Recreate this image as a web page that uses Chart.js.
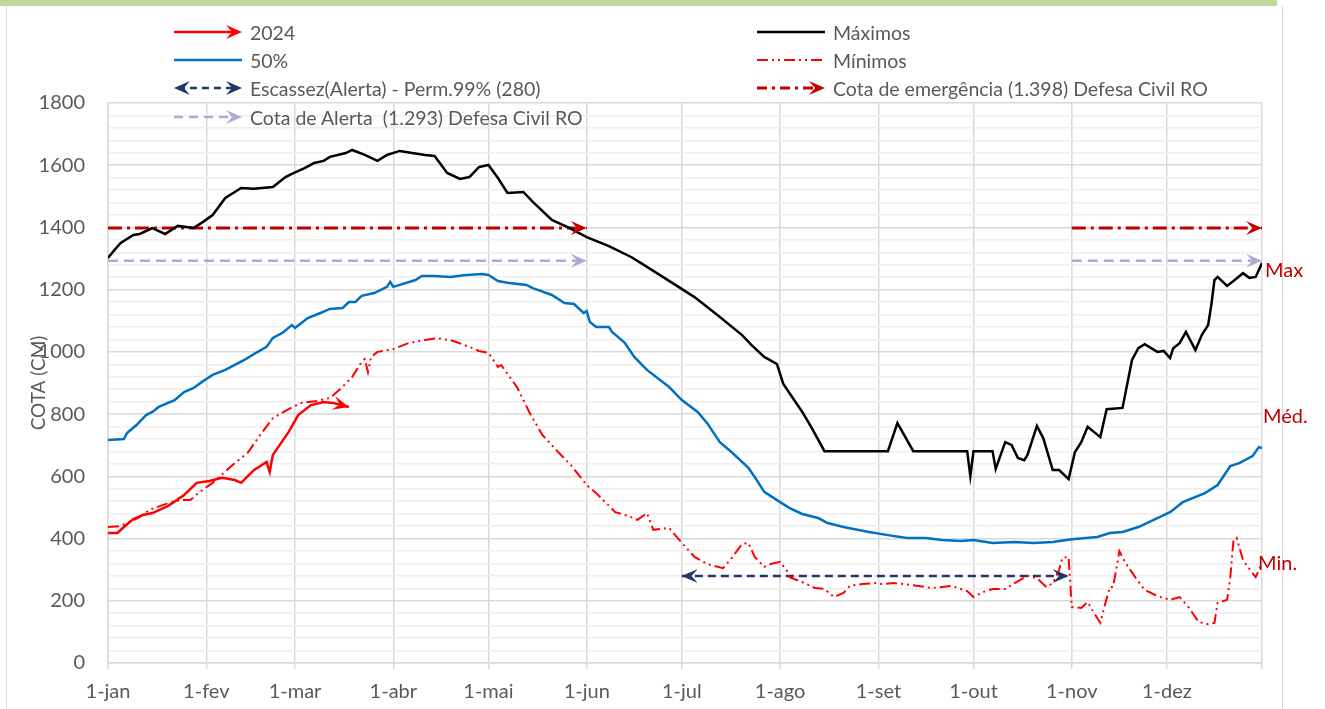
<!DOCTYPE html>
<html>
<head>
<meta charset="utf-8">
<title>Cota - Máximos, 50%, Mínimos e 2024</title>
<script src="https://cdn.jsdelivr.net/npm/chart.js@4.4.1/dist/chart.umd.min.js"></script>
<style>
  body { margin: 0; background: #fff; font-family: Lato, "Open Sans", sans-serif; }
  #wrap { position: relative; width: 1325px; height: 709px; overflow: hidden; }
  .band { position: absolute; left: 0; top: 0; width: 1277px; height: 6px; background: #c4d79b; }
  .frame { position: absolute; left: 6px; top: 6px; width: 1277px; height: 720px;
           border-left: 1px solid #d9d9d9; border-right: 1px solid #d9d9d9; box-sizing: border-box; }
  #chart { position: absolute; left: 0; top: 0; }
  .leg { position: absolute; display: flex; align-items: center; color: #595959; font-size: 19.5px; white-space: nowrap; }
  .leg svg { margin-right: 8px; }
</style>
</head>
<body>
<div id="wrap">
  <div class="band"></div>
  <div class="frame"></div>
  <canvas id="chart" width="1325" height="709"></canvas>
  <div id="legend"></div>
</div>
<script>
// eixo x: dia do ano (1-jan = 0)
const monthDays = [0, 31, 59, 90, 120, 151, 181, 212, 243, 273, 304, 334];
const monthLabels = ['1-jan', '1-fev', '1-mar', '1-abr', '1-mai', '1-jun', '1-jul', '1-ago', '1-set', '1-out', '1-nov', '1-dez'];
const yTicks = [0, 200, 400, 600, 800, 1000, 1200, 1400, 1600, 1800];

// Máximos
const maxDays = [0,2,4,8,10,14,18,22,27,30,33,37,42,46,52,56,58,62,65,68,70,75,77,81,85,88,92,96,100,103,107,111,114,117,120,123,126,131,134,140,145,151,158,165,168,175,185,193,200,203,207,211,213,219,222,226,246,249,254,271,272,273,279,280,283,285,287,289,290,293,295,298,300,303,305,307,309,313,315,320,323,325,327,331,333,335,336,338,340,343,345,347,348,349,350,353,355,358,360,362,364];
const maxValues = [1302,1327,1350,1376,1379,1398,1379,1405,1398,1418,1440,1495,1527,1524,1530,1562,1572,1591,1607,1614,1627,1639,1649,1633,1614,1633,1646,1639,1633,1630,1575,1556,1562,1594,1601,1559,1511,1514,1482,1424,1401,1369,1340,1305,1286,1241,1176,1112,1054,1022,984,961,897,807,755,681,681,771,681,681,601,681,681,624,710,701,659,652,668,762,723,620,620,591,678,710,759,726,816,820,974,1012,1025,1000,1003,980,1012,1028,1064,1006,1054,1086,1150,1231,1241,1212,1228,1253,1238,1241,1286];

// 50% (mediana)
const medDays = [0,5,6,9,12,14,16,21,24,27,30,33,37,40,43,46,50,52,55,58,59,61,63,67,70,74,76,78,80,84,88,89,90,97,99,103,108,113,118,120,123,126,132,134,140,144,147,150,151,152,154,158,159,163,166,170,177,181,186,189,193,197,202,204,207,212,215,219,224,227,232,240,246,252,258,263,269,273,279,286,292,298,304,312,316,320,325,331,335,339,346,350,354,357,361,363,364];
const medValues = [717,720,739,765,797,807,823,845,871,884,906,926,942,958,974,993,1016,1045,1061,1086,1077,1093,1109,1125,1138,1141,1160,1160,1180,1189,1209,1225,1209,1231,1244,1244,1241,1247,1250,1247,1228,1222,1215,1205,1183,1157,1154,1125,1131,1096,1080,1080,1064,1029,984,942,887,845,807,771,710,675,627,598,550,517,498,479,466,450,437,421,411,402,402,395,392,395,386,389,386,389,398,405,418,421,437,466,485,517,546,572,633,643,665,694,691];

// Mínimos
const minDays = [0,4,10,13,19,23,26,29,33,40,44,48,52,57,61,66,70,73,77,80,81,82,83,85,90,95,100,104,109,114,117,120,123,124,129,133,137,142,146,151,154,160,164,167,170,172,177,181,185,189,194,197,200,202,204,207,209,212,214,215,219,223,226,229,232,234,238,242,244,248,253,260,266,271,273,276,279,283,286,290,293,296,298,300,301,303,304,307,309,311,313,314,316,317,318,319,321,324,327,331,335,338,341,344,347,349,350,353,354,355,356,358,361,362,364];
const minValues = [437,440,469,492,514,524,524,550,579,643,675,733,787,816,836,842,852,878,919,968,977,935,984,1000,1009,1029,1038,1044,1035,1016,1003,997,952,958,887,804,733,678,636,572,546,485,473,460,482,428,434,386,341,318,305,341,383,386,341,309,318,325,299,276,260,241,238,212,225,248,254,257,254,257,251,241,248,231,212,228,238,238,257,280,273,244,257,299,338,341,180,177,196,161,129,170,244,244,299,360,321,276,235,215,203,212,177,132,125,129,193,203,276,395,402,331,289,276,321];

// 2024
const y2024Days = [0,3,5,8,11,14,19,24,28,32,36,40,42,46,50,51,52,57,60,64,68,71,76];
const y2024Values = [418,418,437,463,476,482,505,540,579,585,595,588,579,620,646,614,669,743,797,829,839,836,823];

// cotas de referência
const emergencyLevel = 1398;
const alertLevel = 1293;
const scarcityLevel = 280;
const refRangeA = [0, 151];
const refRangeB = [304, 364];
const scarcityRange = [181, 303];

const toPoints = (xs, ys) => xs.map((x, i) => ({ x: x, y: ys[i] }));
const flat = (range, v) => range.map(x => ({ x: x, y: v }));

const C = {
  max: '#000000', med: '#0070c0', min: '#ff0000', y2024: '#ff0000',
  emerg: '#c00000', alert: '#b4a7d6', scarce: '#1f3864', text: '#595959', grid: '#d9d9d9'
};

function drawArrow(ctx, x, y, ang, color, L, W) {
  ctx.save();
  ctx.translate(x, y);
  ctx.rotate(ang);
  ctx.fillStyle = color;
  ctx.beginPath();
  ctx.moveTo(0, 0);
  ctx.lineTo(-L, -W);
  ctx.lineTo(-L * 0.6, 0);
  ctx.lineTo(-L, W);
  ctx.closePath();
  ctx.fill();
  ctx.restore();
}

const arrowPlugin = {
  id: 'arrows',
  afterDatasetsDraw(chart) {
    const ctx = chart.ctx;
    chart.data.datasets.forEach((ds, i) => {
      if (!ds.arrows) return;
      const pts = chart.getDatasetMeta(i).data;
      ds.arrows.forEach(end => {
        const a = end === 'end' ? pts[pts.length - 1] : pts[0];
        const b = end === 'end' ? pts[pts.length - 2] : pts[1];
        drawArrow(ctx, a.x, a.y, Math.atan2(a.y - b.y, a.x - b.x), ds.borderColor, 16, 7);
      });
    });
  }
};

// rótulos Max / Méd. / Min. à direita
const sideLabels = [
  { text: 'Max', value: 1263, dx: 3 },
  { text: 'Méd.', value: 791, dx: 1 },
  { text: 'Min.', value: 321, dx: -4 }
];
const sideLabelPlugin = {
  id: 'sideLabels',
  afterDraw(chart) {
    const ctx = chart.ctx;
    const y = chart.scales.y;
    ctx.save();
    ctx.fillStyle = C.emerg;
    ctx.font = '20px Lato, sans-serif';
    ctx.textBaseline = 'middle';
    sideLabels.forEach(l => ctx.fillText(l.text, chart.chartArea.right + l.dx, y.getPixelForValue(l.value)));
    ctx.restore();
  }
};

const line = (data, color, width, dash, extra) => Object.assign({
  data: data, borderColor: color, backgroundColor: color, borderWidth: width,
  borderDash: dash || [], pointRadius: 0, tension: 0, fill: false
}, extra || {});

new Chart(document.getElementById('chart'), {
  type: 'line',
  data: {
    datasets: [
      line(toPoints(y2024Days, y2024Values), C.y2024, 2.5, null, { arrows: ['end'] }),
      line(toPoints(maxDays, maxValues), C.max, 2.5),
      line(toPoints(medDays, medValues), C.med, 2.5),
      line(toPoints(minDays, minValues), C.min, 2, [11, 4, 2, 4, 2, 4]),
      line(flat(scarcityRange, scarcityLevel), C.scarce, 2.5, [8, 5], { arrows: ['start', 'end'] }),
      line(flat(refRangeA, emergencyLevel), C.emerg, 3, [14, 5, 3, 5], { arrows: ['end'] }),
      line(flat(refRangeB, emergencyLevel), C.emerg, 3, [14, 5, 3, 5], { arrows: ['end'] }),
      line(flat(refRangeA, alertLevel), C.alert, 2.5, [10, 6], { arrows: ['end'] }),
      line(flat(refRangeB, alertLevel), C.alert, 2.5, [10, 6], { arrows: ['end'] })
    ]
  },
  options: {
    responsive: false,
    animation: false,
    devicePixelRatio: 1,
    layout: { padding: { left: 0, top: 103, right: 63, bottom: 0 } },
    plugins: { legend: { display: false }, tooltip: { enabled: false } },
    scales: {
      x: {
        type: 'linear', min: 0, max: 364,
        afterBuildTicks: axis => { axis.ticks = monthDays.concat([364]).map(v => ({ value: v })); },
        afterFit: axis => { axis.height = 46; },
        ticks: {
          autoSkip: false, maxRotation: 0, padding: 11, color: C.text,
          font: { family: 'Lato, sans-serif', size: 20 },
          callback: v => { const i = monthDays.indexOf(v); return i >= 0 ? monthLabels[i] : ''; }
        },
        grid: { color: C.grid, lineWidth: 1.5, tickLength: 6, drawTicks: true },
        border: { color: C.grid, width: 1.5 }
      },
      y: {
        min: 0, max: 1800,
        afterFit: axis => { axis.width = 108; },
        ticks: {
          stepSize: 40, autoSkip: false, padding: 23, color: C.text,
          font: { family: 'Lato, sans-serif', size: 20 },
          callback: v => (yTicks.includes(v) ? v : '')
        },
        grid: {
          drawTicks: false,
          color: ctx => (yTicks.includes(ctx.tick.value) ? C.grid : '#eeeeee'),
          lineWidth: 1.5
        },
        border: { color: C.grid, width: 1.5 },
        title: { display: true, text: 'COTA (CM)', color: C.text, padding: { top: 27, bottom: 0 },
                 font: { family: 'Lato, sans-serif', size: 19 } }
      }
    }
  },
  plugins: [arrowPlugin, sideLabelPlugin]
});

// legenda (duas colunas)
const legendItems = [
  { label: '2024', col: 0, row: 0, color: C.y2024, dash: '', width: 2.5, arrows: ['end'] },
  { label: '50%', col: 0, row: 1, color: C.med, dash: '', width: 2.5, arrows: [] },
  { label: 'Escassez(Alerta) - Perm.99% (280)', col: 0, row: 2, color: C.scarce, dash: '7 5', width: 2.5, arrows: ['start', 'end'] },
  { label: 'Cota de Alerta  (1.293) Defesa Civil RO', col: 0, row: 3, color: C.alert, dash: '9 6', width: 2.5, arrows: ['end'] },
  { label: 'Máximos', col: 1, row: 0, color: C.max, dash: '', width: 2.5, arrows: [] },
  { label: 'Mínimos', col: 1, row: 1, color: C.min, dash: '11 4 2 4 2 4', width: 2, arrows: [] },
  { label: 'Cota de emergência (1.398) Defesa Civil RO', col: 1, row: 2, color: C.emerg, dash: '10 5 3 5', width: 3, arrows: ['end'] }
];
const colX = [174, 757];
const rowY = [32, 60, 88, 117];
const legend = document.getElementById('legend');
legendItems.forEach(it => {
  const w = 68, h = 16, m = h / 2;
  let heads = '';
  if (it.arrows.includes('end')) heads += `<path d="M${w},${m} L${w - 16},${m - 7} L${w - 10},${m} L${w - 16},${m + 7} Z" fill="${it.color}"/>`;
  if (it.arrows.includes('start')) heads += `<path d="M0,${m} L16,${m - 7} L10,${m} L16,${m + 7} Z" fill="${it.color}"/>`;
  const div = document.createElement('div');
  div.className = 'leg';
  div.style.left = colX[it.col] + 'px';
  div.style.top = (rowY[it.row] - 12) + 'px';
  div.style.height = '24px';
  div.innerHTML = `<svg width="${w}" height="${h}"><line x1="${it.arrows.includes('start') ? 4 : 0}" y1="${m}" x2="${it.arrows.includes('end') ? w - 4 : w}" y2="${m}" stroke="${it.color}" stroke-width="${it.width}" stroke-dasharray="${it.dash}"/>${heads}</svg><span>${it.label.replace(/  /g, ' &nbsp;')}</span>`;
  legend.appendChild(div);
});
</script>
</body>
</html>
